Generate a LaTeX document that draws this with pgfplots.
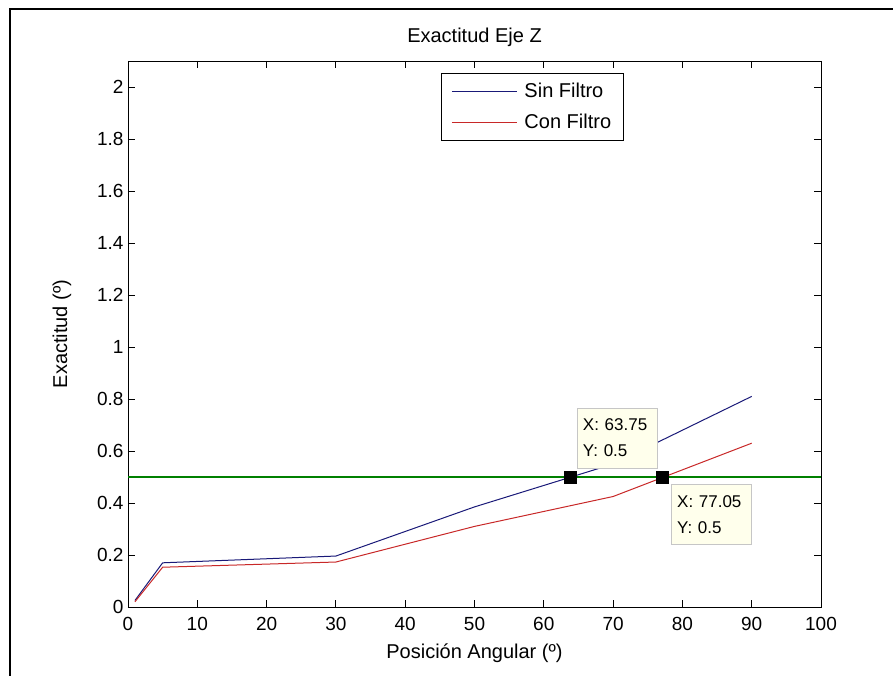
\documentclass[border=0pt]{standalone}
\usepackage{pgfplots}
\pgfplotsset{compat=1.18}
\usepackage{fontspec}
\setmainfont{Liberation Sans}
\definecolor{sinc}{RGB}{25,25,120}
\definecolor{conc}{RGB}{200,40,40}
\definecolor{grnline}{RGB}{0,128,0}
\definecolor{tipbg}{RGB}{255,255,236}
\begin{document}
\begin{tikzpicture}
\useasboundingbox (-128pt,-68pt) rectangle (765pt,607pt);
\draw[line width=2pt] (-118pt,-70pt) -- (-118pt,598pt) -- (770pt,598pt);
\begin{axis}[
  name=main,
  at={(0pt,0pt)}, anchor=south west,
  scale only axis, width=693pt, height=546pt,
  xmin=0, xmax=100, ymin=0, ymax=2.1,
  xtick={0,10,...,100},
  ytick={0,0.2,0.4,0.6,0.8,1,1.2,1.4,1.6,1.8,2},
  yticklabels={0,0.2,0.4,0.6,0.8,1,1.2,1.4,1.6,1.8,2},
  tick align=inside, major tick length=7pt,
  axis line style={line width=0.9pt},
  every tick/.style={line width=0.9pt, black},
  /pgf/number format/assume math mode=true,
  tick label style={font=\fontsize{19}{22}\selectfont},
  xticklabel style={yshift=-7pt},
  yticklabel style={xshift=-1pt},
  title={Exactitud Eje Z},
  title style={font=\fontsize{20}{24}\selectfont, at={(0.5,1)}, anchor=center, yshift=18pt},
  xlabel={Posición Angular (º)},
  xlabel style={font=\fontsize{20}{24}\selectfont, at={(0.5,0)}, anchor=center, yshift=-46pt},
  ylabel={Exactitud (º)},
  ylabel style={font=\fontsize{20}{24}\selectfont, at={(-0.0952,0.5)}, anchor=center},
  legend style={at={(0.4517,0.978)}, anchor=north west, draw=black, line width=0.9pt,
    font=\fontsize{20}{24}\selectfont, inner xsep=10pt, inner ysep=8pt,
    row sep=11pt, cells={anchor=west},
    /tikz/every odd column/.append style={column sep=5pt}},
  legend image code/.code={\draw[#1, line width=1pt] (0pt,0pt) -- (65pt,0pt);},
]
\addplot[sinc, line width=1pt] coordinates {
  (1,0.025) (5,0.170) (30,0.196) (50,0.385) (70,0.550) (90,0.810)};
\addlegendentry{Sin Filtro}
\addplot[conc, line width=1pt] coordinates {
  (1,0.020) (5,0.153) (30,0.173) (50,0.310) (70,0.425) (90,0.630)};
\addlegendentry{Con Filtro}
\addplot[draw=grnline, line width=1.15pt, forget plot] coordinates {(0,0.5) (100,0.5)};
\node[draw=gray!45, fill=tipbg, anchor=south west, align=left, inner sep=0pt,
  minimum width=80pt, minimum height=60pt, text width=68pt,
  font=\fontsize{17}{26}\selectfont]
  at (axis cs:63.75,0.5) [xshift=7pt, yshift=9pt] {X: 63.75\\Y: 0.5};
\node[draw=gray!45, fill=tipbg, anchor=north west, align=left, inner sep=0pt,
  minimum width=80pt, minimum height=60pt, text width=68pt,
  font=\fontsize{17}{26}\selectfont]
  at (axis cs:77.05,0.5) [xshift=9pt, yshift=-7pt] {X: 77.05\\Y: 0.5};
\addplot[only marks, mark=square*, mark size=6pt, black, forget plot] coordinates {
  (63.75,0.5) (77.05,0.5)};
\end{axis}
\end{tikzpicture}
\end{document}
